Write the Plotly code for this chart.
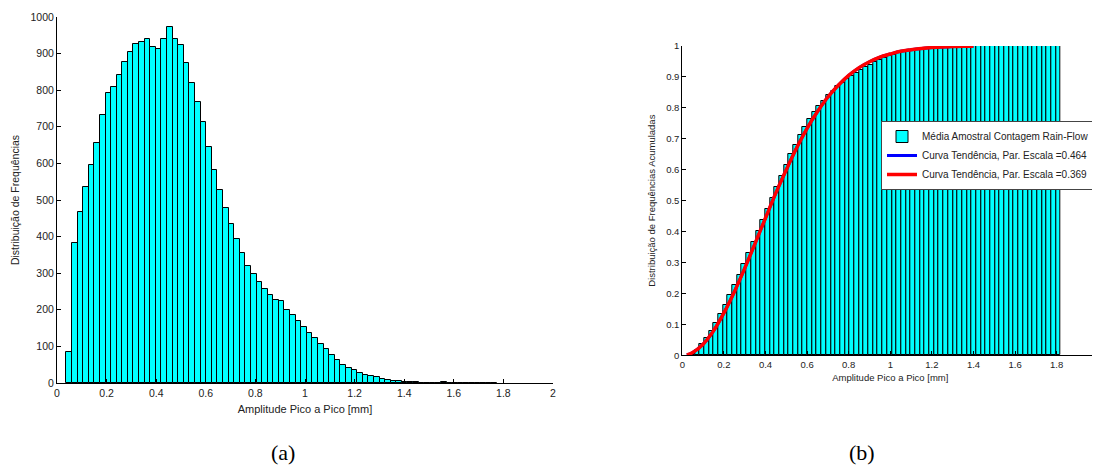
import numpy as np
import plotly.graph_objects as go

# ---------------- data ----------------
bin_first_center = 0.049
bin_width = 0.02255

# (a) histogram counts per bin
counts_a = [86, 382, 466, 535, 597, 656, 731, 793, 810, 842,
            877, 905, 926, 932, 939, 919, 913, 939, 973, 941,
            924, 873, 821, 767, 712, 646, 581, 527, 479, 435,
            393, 355, 320, 298, 277, 257, 240, 227, 223, 200,
            185, 170, 154, 136, 123, 106, 93, 76, 62, 48,
            41, 35, 28, 23, 18, 16, 12, 9, 6, 6,
            4, 4, 4, 1, 1, 1, 1, 2, 1, 1,
            1, 1, 1, 1, 1, 1, 1]

# (b) cumulative frequency per bin
cum_b = [0.0033, 0.0179, 0.0358, 0.0563, 0.0792, 0.1043, 0.1323, 0.1627, 0.1938, 0.2261,
         0.2597, 0.2944, 0.3298, 0.3656, 0.4016, 0.4368, 0.4718, 0.5078, 0.5451, 0.5811,
         0.6165, 0.6500, 0.6815, 0.7109, 0.7381, 0.7629, 0.7852, 0.8054, 0.8237, 0.8404,
         0.8555, 0.8691, 0.8813, 0.8928, 0.9034, 0.9132, 0.9224, 0.9311, 0.9397, 0.9473,
         0.9544, 0.9609, 0.9668, 0.9721, 0.9768, 0.9808, 0.9844, 0.9873, 0.9897, 0.9915,
         0.9931, 0.9944, 0.9955, 0.9964, 0.9971, 0.9977, 0.9982, 0.9985, 0.9987, 0.9990,
         0.9991, 0.9993, 0.9994, 0.9995, 0.9995, 0.9996, 0.9996, 0.9997, 0.9998, 0.9998,
         0.9998, 0.9999, 0.9999, 0.9999, 1.0, 1.0, 1.0, 1.0, 1.0]

# trend curves
curve_x = [0.022, 0.05, 0.1, 0.15, 0.2, 0.25, 0.3, 0.35, 0.4, 0.45, 0.5, 0.55, 0.6,
           0.65, 0.7, 0.75, 0.8, 0.85, 0.9, 0.95, 1.0, 1.05, 1.1, 1.15, 1.2, 1.25,
           1.3, 1.35, 1.4]
curve_red = [0.001, 0.009, 0.036, 0.079, 0.137, 0.205, 0.281, 0.362, 0.444, 0.525,
             0.600, 0.671, 0.734, 0.788, 0.835, 0.873, 0.905, 0.930, 0.949, 0.964,
             0.974, 0.983, 0.988, 0.992, 0.995, 0.997, 0.998, 0.999, 0.999]
curve_blue = list(curve_red)

x_ticks = [0, 0.2, 0.4, 0.6, 0.8, 1, 1.2, 1.4, 1.6, 1.8, 2]

xa = [bin_first_center + i * bin_width for i in range(len(counts_a))]
xb = [bin_first_center + i * bin_width for i in range(len(cum_b))]

# ---------------- layout helpers ----------------
OFF = 8            # page body margin
W, H = 1100 - OFF, 466 - OFF


def px_x(x):       # screen x -> paper fraction
    return (x - OFF) / W


def px_y(y):       # screen y (from top) -> paper fraction
    return 1 - (y - OFF) / H


CYAN = "#00FFFF"
FONT = "Liberation Sans, Arial, sans-serif"
SERIF = "Liberation Serif, Times New Roman, serif"

fig = go.Figure()

fig.add_trace(go.Bar(x=xa, y=counts_a, width=bin_width,
                     marker=dict(color=CYAN, line=dict(color="black", width=1)),
                     xaxis="x", yaxis="y", showlegend=False))

fig.add_trace(go.Bar(x=xb, y=cum_b, width=bin_width,
                     marker=dict(color=CYAN, line=dict(color="black", width=1)),
                     xaxis="x2", yaxis="y2",
                     name="Média Amostral Contagem Rain-Flow", showlegend=True))
fig.add_trace(go.Scatter(x=curve_x, y=curve_blue, mode="lines", line_shape="spline",
                         line=dict(color="#0000FF", width=3),
                         xaxis="x2", yaxis="y2",
                         name="Curva Tendência, Par. Escala =0.464"))
fig.add_trace(go.Scatter(x=curve_x, y=curve_red, mode="lines", line_shape="spline",
                         line=dict(color="#FF0000", width=3.5),
                         xaxis="x2", yaxis="y2",
                         name="Curva Tendência, Par. Escala =0.369"))

axis_common = dict(showline=True, linecolor="black", linewidth=1, ticks="inside",
                   ticklen=4, tickcolor="black", showgrid=False, zeroline=False,
                   mirror=False, automargin=False, ticklabeloverflow="allow")

fig.update_layout(
    width=W, height=H,
    margin=dict(l=0, r=0, t=0, b=0),
    paper_bgcolor="white", plot_bgcolor="white",
    bargap=0,
    barmode="overlay",
    font=dict(family=FONT, color="#222222", size=10),
    xaxis=dict(domain=[px_x(57), px_x(553)], range=[0, 2], tickvals=x_ticks,
               anchor="y", tickfont=dict(size=10.5),
               title=dict(text="Amplitude Pico a Pico [mm]", font=dict(size=11), standoff=7),
               **axis_common),
    yaxis=dict(domain=[px_y(383), px_y(17)], range=[0, 1000], dtick=100, tick0=0,
               anchor="x", tickfont=dict(size=10.5),
               title=dict(text="Distribuição de Frequências", font=dict(size=10.5), standoff=8),
               **axis_common),
    xaxis2=dict(domain=[px_x(682.3), px_x(1098.3)], range=[0, 2], tickvals=x_ticks,
                anchor="y2", tickfont=dict(size=9.5),
                title=dict(text="Amplitude Pico a Pico [mm]", font=dict(size=9.5), standoff=5),
                **axis_common),
    yaxis2=dict(domain=[px_y(355.3), px_y(46)], range=[0, 1], dtick=0.1, tick0=0,
                anchor="x2", tickfont=dict(size=9.5),
                title=dict(text="Distribuição de Frequências Acumuladas", font=dict(size=9.5), standoff=8),
                **axis_common),
    legend=dict(x=px_x(881), y=px_y(121), xanchor="left", yanchor="top",
                bgcolor="white", bordercolor="#444444", borderwidth=1,
                font=dict(size=10, family=FONT, color="#222222"),
                tracegroupgap=0, itemwidth=30),
    annotations=[
        dict(text="(a)", x=px_x(283), y=px_y(452), xref="paper", yref="paper",
             xanchor="center", yanchor="middle",
             showarrow=False, font=dict(family=SERIF, size=22, color="black")),
        dict(text="(b)", x=px_x(862), y=px_y(452), xref="paper", yref="paper",
             xanchor="center", yanchor="middle",
             showarrow=False, font=dict(family=SERIF, size=22, color="black")),
    ],
)

fig.write_html("out.html")
